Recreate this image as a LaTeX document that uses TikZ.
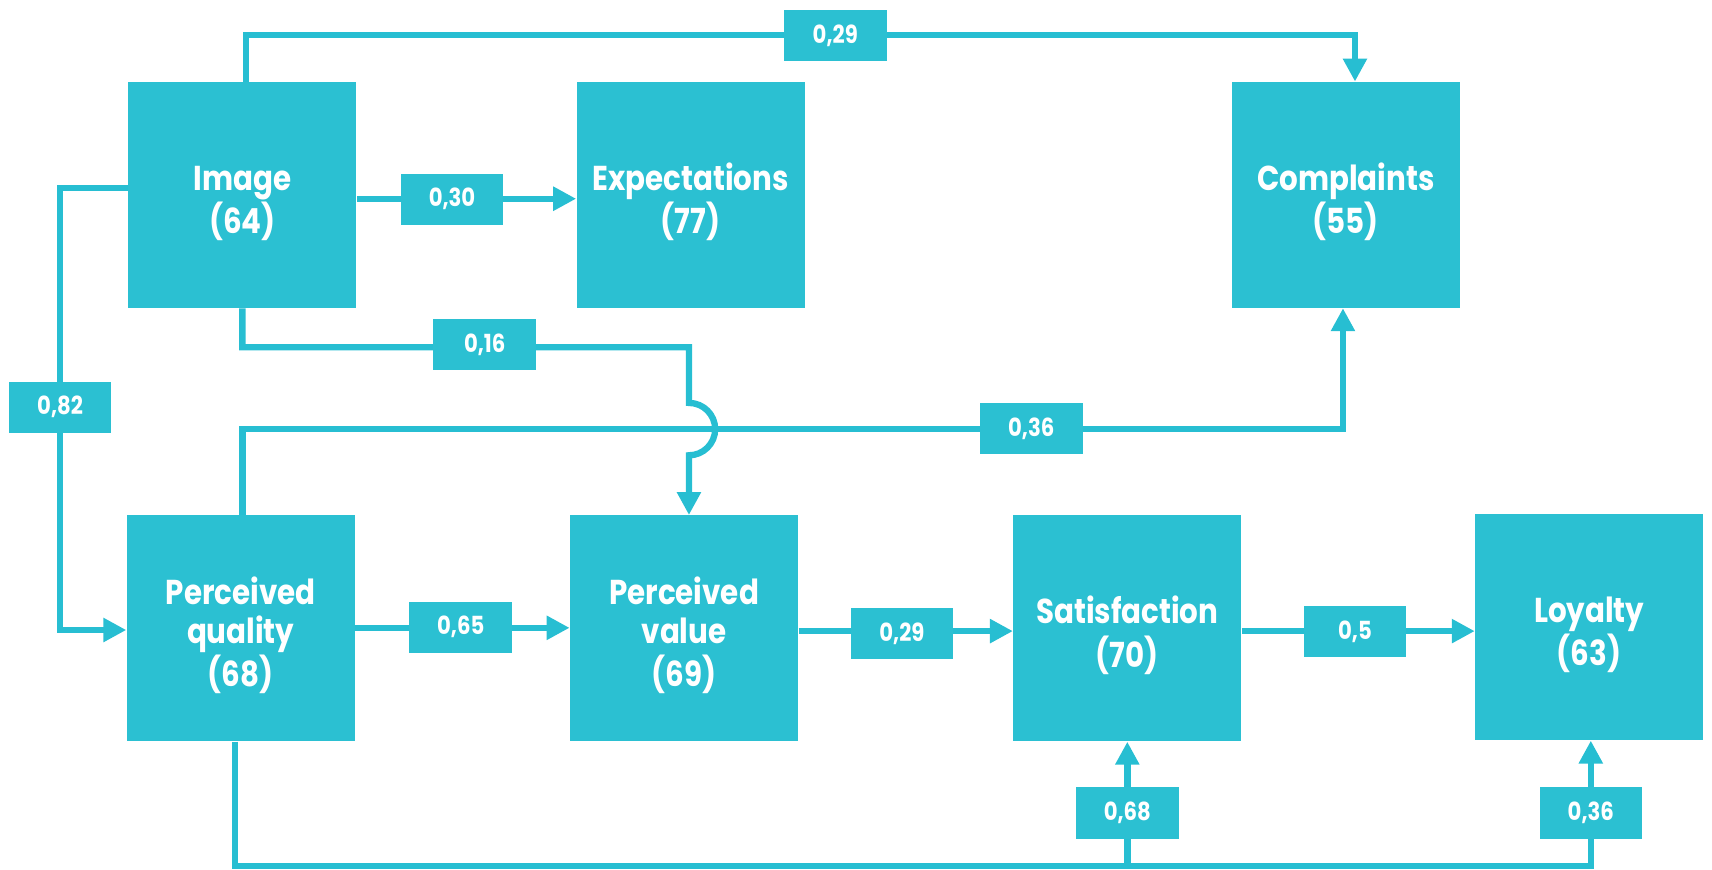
\documentclass[tikz,border=0pt]{standalone}
\usepackage{fontspec}
\setmainfont{Poppins}[FakeStretch=0.85]
\usetikzlibrary{arrows.meta,calc}
\definecolor{boxc}{HTML}{2BC0D2}
\definecolor{linec}{HTML}{27BED2}
\newcommand{\bxtext}[1]{\raisebox{-0.32cm}[0pt][0pt]{\begin{tabular}{@{}c@{}}#1\end{tabular}}}
\tikzset{
  bigbox/.style={fill=boxc,text=white,inner sep=0pt,
    minimum width=4.18cm,minimum height=4.14cm,
    font=\bfseries\fontsize{18}{20.3}\selectfont},
  lab/.style={fill=boxc,text=white,inner sep=0pt,
    minimum width=1.88cm,minimum height=0.94cm,
    font=\bfseries\fontsize{13}{15}\selectfont},
  conn/.style={draw=linec,line width=3.3pt},
  arr/.style={conn,-{Triangle[length=0.42cm,width=0.42cm]}}
}
\begin{document}
\begin{tikzpicture}[x=0.02cm,y=-0.02cm]
\useasboundingbox (0,0) rectangle (1568,796);
% boxes
\node[bigbox] (img) at (222,178.5) {\bxtext{Image\\(64)}};
\node[bigbox] (exp) at (632.5,178.5) {\bxtext{Expectations\\(77)}};
\node[bigbox] (cmp) at (1232.5,178.5) {\bxtext{Complaints\\(55)}};
\node[bigbox] (pq) at (220.5,575.5) {\bxtext{Perceived\\quality\\(68)}};
\node[bigbox] (pv) at (626.5,575.5) {\bxtext{Perceived\\value\\(69)}};
\node[bigbox] (sat) at (1032.5,575.5) {\bxtext{Satisfaction\\(70)}};
\node[bigbox] (loy) at (1455.5,574.5) {\bxtext{Loyalty\\(63)}};
% connectors
\draw[arr] (img.north -| 225,0) -- (225,32) -| ([xshift=0.17cm]cmp.north);
\draw[arr] (img.east |- 0,182) -- (exp.west |- 0,182);
\draw[arr] (img.south) -- (img.south |- 0,318) -- (631,318) -- (631,369)
   arc[start angle=90,end angle=-90,radius=0.48cm] -- (pv.north -| 631,0);
\draw[arr] (img.west |- 0,172) -- (55,172) -- (55,577) -- (pq.west |- 0,577);
\draw[arr] (pq.north -| 222,0) -- (222,393) -| ([xshift=-0.05cm]cmp.south);
\draw[arr] (pq.east |- 0,575) -- (pv.west |- 0,575);
\draw[arr] (pv.east |- 0,578) -- (sat.west |- 0,578);
\draw[arr] (sat.east |- 0,578) -- (loy.west |- 0,578);
\draw[arr] (pq.south -| 215,0) -- (215,793) -| (loy.south -| 1457,0);
\draw[arr] (sat.south |- 0,793) -- (sat.south);
% labels
\node[lab] (l1) at (765,32.5) {0,29};
\node[lab] (l2) at (414,182.5) {0,30};
\node[lab] (l3) at (444,315.5) {0,16};
\node[lab] (l4) at (55,373) {0,82};
\node[lab] (l5) at (944.5,392.5) {0,36};
\node[lab] (l6) at (422,574.5) {0,65};
\node[lab] (l7) at (826,580.5) {0,29};
\node[lab] (l8) at (1241,578.5) {0,5};
\node[lab] (l9) at (1032.5,744.5) {0,68};
\node[lab] (l10) at (1457,744.5) {0,36};
\end{tikzpicture}
\end{document}
